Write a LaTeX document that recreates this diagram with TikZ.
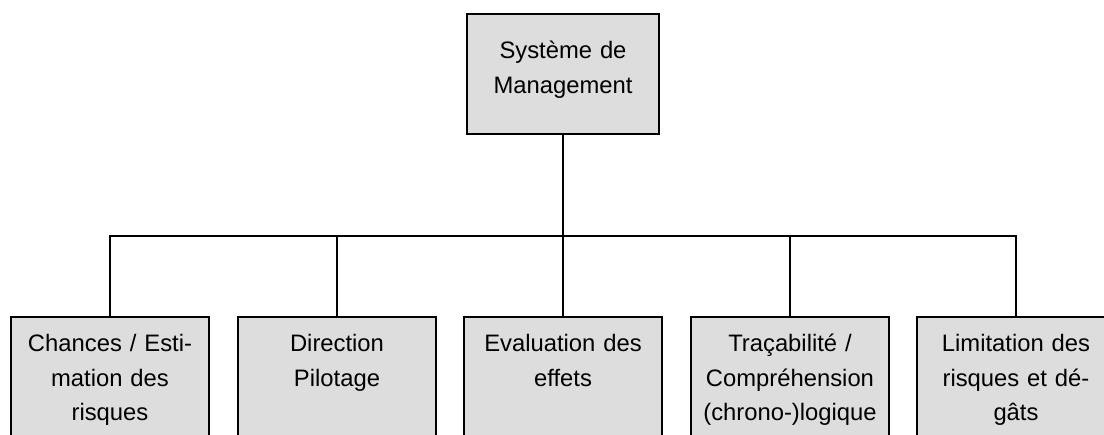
\documentclass[tikz,border=0pt]{standalone}
\usepackage{fontspec}
\setmainfont{Liberation Sans}
\usetikzlibrary{calc}
\definecolor{boxgray}{RGB}{221,221,221}
\tikzset{
  >=latex,
  box/.style={draw, fill=boxgray, line width=1.6pt, anchor=north,
    align=center, text width=188pt, minimum width=198pt,
    font=\fontsize{23.8}{34.5}\selectfont, text height=23pt, inner ysep=12pt},
  topbox/.style={box, minimum width=192pt, text width=182pt, inner ysep=22pt, text depth=53pt},
  subbox/.style={box, text depth=130pt},
  link/.style={line width=1.6pt}
}
\begin{document}
\begin{tikzpicture}[x=1pt, y=1pt]
 \useasboundingbox (0,0) rectangle (1104,435);
 \clip (0,0) rectangle (1104,435);
 \node[topbox] (top) at (563,422) {Système de\\Management};
 \node[subbox] (b1) at (110,119) {Chances / Esti-\\mation des\\risques};
 \node[subbox] (b2) at (337,119) {Direction\\Pilotage};
 \node[subbox] (b3) at (563,119) {Evaluation des\\effets};
 \node[subbox] (b4) at (790,119) {Traçabilité /\\Compréhension\\(chrono-)logique};
 \node[subbox] (b5) at (1016,119) {Limitation des\\risques et dé-\\gâts};
 \coordinate (bus) at (563,199);
 \draw[link] (top.south) -- (b3.north);
 \draw[link] (b1.north) |- (bus) -| (b5.north);
 \foreach \i in {2,4}
  \draw[link] (b\i.north) -- (b\i.north |- bus);
\end{tikzpicture}
\end{document}
